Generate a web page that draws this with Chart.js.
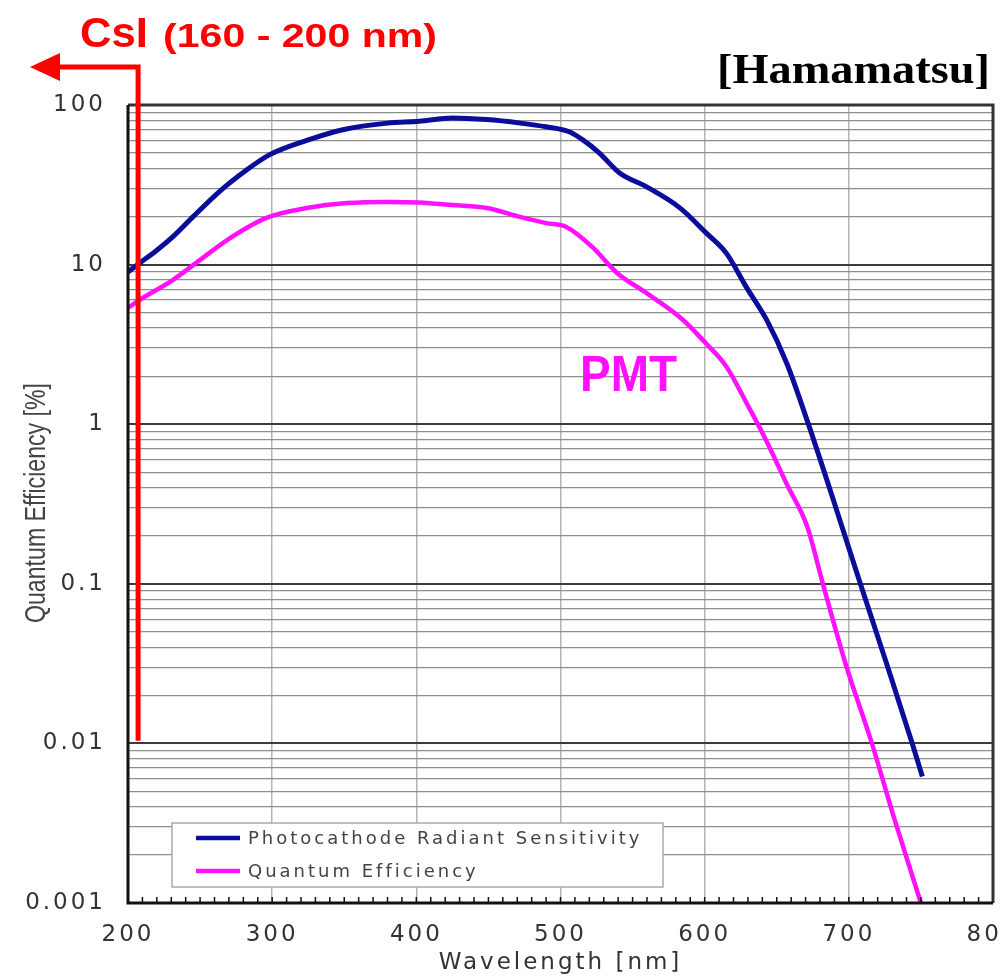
<!DOCTYPE html>
<html>
<head>
<meta charset="utf-8">
<script src="https://cdn.jsdelivr.net/npm/chart.js@4.4.1/dist/chart.umd.min.js"></script>
<style>
  html, body { margin: 0; padding: 0; background: #fff; }
  #wrap { width: 1003px; height: 977px; }
</style>
</head>
<body>
<div id="wrap"><canvas id="qe" width="1003" height="977"></canvas></div>
<script>
// ── Data ────────────────────────────────────────────────────────────────────

// Photocathode Radiant Sensitivity
const prsWavelength = [200, 208, 220, 231, 245, 264, 282, 298, 324, 349, 380, 402, 425, 449, 472, 490, 506, 516, 527, 541, 560, 583, 601, 615, 629, 643, 657, 671, 690, 708, 726, 744, 751];
const prsValue      = [9.0, 10.2, 12.3, 14.9, 19.9, 29, 39, 48.7, 60, 70, 77, 79, 83, 81, 77, 73, 68, 60, 50, 37.5, 30.6, 22.6, 15.8, 11.8, 7.2, 4.5, 2.4, 1.06, 0.32, 0.1, 0.032, 0.01, 0.0062];

// Quantum Efficiency
const qeWavelength = [200, 208, 231, 250, 269, 296, 324, 352, 380, 402, 425, 449, 472, 490, 504, 522, 539, 560, 585, 601, 615, 629, 643, 657, 671, 682, 698, 716, 731, 750];
const qeValue      = [5.35, 6.0, 8.0, 10.7, 14.3, 19.6, 22.6, 24.3, 24.7, 24.5, 23.6, 22.6, 19.9, 18.2, 17.2, 12.9, 8.9, 6.6, 4.5, 3.2, 2.3, 1.36, 0.78, 0.42, 0.23, 0.1, 0.031, 0.01, 0.0035, 0.001];

const seriesNames = ['Photocathode Radiant Sensitivity', 'Quantum Efficiency'];
const xTickValues = [200, 300, 400, 500, 600, 700, 800];
const yDecades = [0.001, 0.01, 0.1, 1, 10, 100];

// CsI annotation: cut-off line just past 200 nm, down to ~0.01 %
const csiEdgeNm = 207;
const csiLineBottom = 0.0104;

const BLUE = '#0c0c9a';
const MAGENTA = '#ff10ff';
const RED = '#ff0000';

const toPoints = (xs, ys) => xs.map((x, i) => ({ x, y: ys[i] }));
const isDecade = v => Math.abs(Math.log10(v) - Math.round(Math.log10(v))) < 1e-9;

// ── Custom drawing: frame, inner ticks, legend box, annotations ────────────

const decor = {
    id: 'decor',
    beforeDraw(chart) {
        chart.ctx.letterSpacing = '3px';
    },
    afterDatasetsDraw(chart) {
        const { ctx, chartArea: a, scales: { x } } = chart;
        ctx.save();
        ctx.letterSpacing = '0px';
        // small ticks along the bottom, every 10 nm
        ctx.strokeStyle = '#111';
        ctx.lineWidth = 1.5;
        for (let nm = xTickValues[0]; nm <= xTickValues[xTickValues.length - 1]; nm += 10) {
            const px = x.getPixelForValue(nm);
            ctx.beginPath();
            ctx.moveTo(px, a.bottom);
            ctx.lineTo(px, a.bottom - 6);
            ctx.stroke();
        }
        // frame
        ctx.strokeStyle = '#333';
        ctx.lineWidth = 3;
        ctx.beginPath();
        ctx.moveTo(a.left, a.top);
        ctx.lineTo(a.right, a.top);
        ctx.lineTo(a.right, a.bottom);
        ctx.stroke();
        ctx.strokeStyle = '#111';
        ctx.beginPath();
        ctx.moveTo(a.left, a.top);
        ctx.lineTo(a.left, a.bottom);
        ctx.lineTo(a.right, a.bottom);
        ctx.stroke();
        ctx.restore();
    },
    afterDraw(chart) {
        const { ctx, chartArea: a, scales: { x, y } } = chart;
        ctx.save();
        ctx.letterSpacing = '0px';

        // legend box
        const lx = 172, ly = 823, lw = 491, lh = 64;
        ctx.fillStyle = '#fff';
        ctx.fillRect(lx, ly, lw, lh);
        ctx.strokeStyle = '#aaa';
        ctx.lineWidth = 1.5;
        ctx.strokeRect(lx, ly, lw, lh);
        ctx.letterSpacing = '3px';
        ctx.font = '18px "DejaVu Sans"';
        ctx.textBaseline = 'middle';
        ctx.textAlign = 'left';
        chart.data.datasets.forEach((ds, i) => {
            const rowY = 838 + i * 33;
            ctx.strokeStyle = ds.borderColor;
            ctx.lineWidth = 4.5;
            ctx.beginPath();
            ctx.moveTo(lx + 24, rowY);
            ctx.lineTo(lx + 68, rowY);
            ctx.stroke();
            ctx.fillStyle = '#444';
            ctx.fillText(ds.label, lx + 76, rowY + 1);
        });
        ctx.letterSpacing = '0px';

        // y-axis title, narrow
        ctx.save();
        ctx.translate(37, 503);
        ctx.rotate(-Math.PI / 2);
        ctx.font = '30px "Liberation Sans", Arial, sans-serif';
        const yTitle = 'Quantum Efficiency [%]';
        const sy = 240 / ctx.measureText(yTitle).width;
        ctx.scale(sy, 1);
        ctx.fillStyle = '#444';
        ctx.textAlign = 'center';
        ctx.textBaseline = 'middle';
        ctx.fillText(yTitle, 0, 0);
        ctx.restore();

        const fitText = (text, font, color, left, baseline, width) => {
            ctx.save();
            ctx.font = font;
            const s = width / ctx.measureText(text).width;
            ctx.translate(left, baseline);
            ctx.scale(s, 1);
            ctx.fillStyle = color;
            ctx.textAlign = 'left';
            ctx.textBaseline = 'alphabetic';
            ctx.fillText(text, 0, 0);
            ctx.restore();
        };

        // CsI cut-off line + arrow
        const ex = x.getPixelForValue(csiEdgeNm);
        const eb = y.getPixelForValue(csiLineBottom);
        const cornerY = a.top - 38;
        ctx.strokeStyle = RED;
        ctx.lineWidth = 5;
        ctx.lineCap = 'butt';
        ctx.beginPath();
        ctx.moveTo(ex, eb);
        ctx.lineTo(ex, cornerY - 2.5);
        ctx.moveTo(ex + 2.5, cornerY);
        ctx.lineTo(58, cornerY);
        ctx.stroke();
        ctx.fillStyle = RED;
        ctx.beginPath();
        ctx.moveTo(30, cornerY);
        ctx.lineTo(60, cornerY - 14);
        ctx.lineTo(60, cornerY + 14);
        ctx.closePath();
        ctx.fill();

        fitText('CsI', 'bold 42px "Liberation Sans", Arial, sans-serif', RED, 80, 47, 68);
        fitText('(160 - 200 nm)', 'bold 34px "Liberation Sans", Arial, sans-serif', RED, 163, 47, 274);
        fitText('[Hamamatsu]', 'bold 42px "Liberation Serif", "Times New Roman", serif', '#000', 717, 83, 273);
        fitText('PMT', 'bold 50px "Liberation Sans", Arial, sans-serif', MAGENTA, 580, 391, 97);

        ctx.restore();
    },
};

// ── Chart ──────────────────────────────────────────────────────────────────

const tickFont = { family: '"DejaVu Sans"', size: 23 };

new Chart(document.getElementById('qe'), {
    type: 'line',
    data: {
        datasets: [
            {
                label: seriesNames[0],
                data: toPoints(prsWavelength, prsValue),
                borderColor: BLUE,
                borderWidth: 5,
                cubicInterpolationMode: 'monotone',
                pointRadius: 0,
                fill: false,
            },
            {
                label: seriesNames[1],
                data: toPoints(qeWavelength, qeValue),
                borderColor: MAGENTA,
                borderWidth: 4.5,
                cubicInterpolationMode: 'monotone',
                pointRadius: 0,
                fill: false,
            },
        ],
    },
    options: {
        responsive: false,
        animation: false,
        devicePixelRatio: 1,
        layout: { padding: { left: 0, right: 10, top: 105, bottom: 0 } },
        plugins: {
            legend: { display: false },
            tooltip: { enabled: false },
        },
        scales: {
            x: {
                type: 'linear',
                min: xTickValues[0],
                max: xTickValues[xTickValues.length - 1],
                afterBuildTicks: s => { s.ticks = xTickValues.map(v => ({ value: v })); },
                afterFit: s => { s.height = 74; s.paddingLeft = 0; s.paddingRight = 0; },
                ticks: { font: tickFont, color: '#333', padding: 18, maxRotation: 0, autoSkip: false },
                grid: { color: '#b4b4b4', lineWidth: 1.5, drawTicks: false },
                border: { display: false },
                title: {
                    display: true,
                    text: 'Wavelength [nm]',
                    font: tickFont,
                    color: '#333',
                    padding: { top: 0, bottom: 0 },
                },
            },
            y: {
                type: 'logarithmic',
                min: yDecades[0],
                max: yDecades[yDecades.length - 1],
                afterBuildTicks: s => {
                    const t = [];
                    for (let i = 0; i < yDecades.length - 1; i++) {
                        for (let m = 1; m <= 9; m++) t.push({ value: +(m * yDecades[i]).toPrecision(6) });
                    }
                    t.push({ value: yDecades[yDecades.length - 1] });
                    s.ticks = t;
                },
                afterFit: s => { s.width = 128; s.paddingTop = 0; s.paddingBottom = 0; },
                ticks: {
                    font: tickFont,
                    color: '#333',
                    padding: 22,
                    autoSkip: false,
                    callback: v => (isDecade(v) ? String(v) : ''),
                },
                grid: {
                    drawTicks: false,
                    color: c => (isDecade(c.tick.value) ? '#3c3c3c' : '#8e8e8e'),
                    lineWidth: c => (isDecade(c.tick.value) ? 2 : 1.3),
                },
                border: { display: false },
            },
        },
    },
    plugins: [decor],
});
</script>
</body>
</html>
